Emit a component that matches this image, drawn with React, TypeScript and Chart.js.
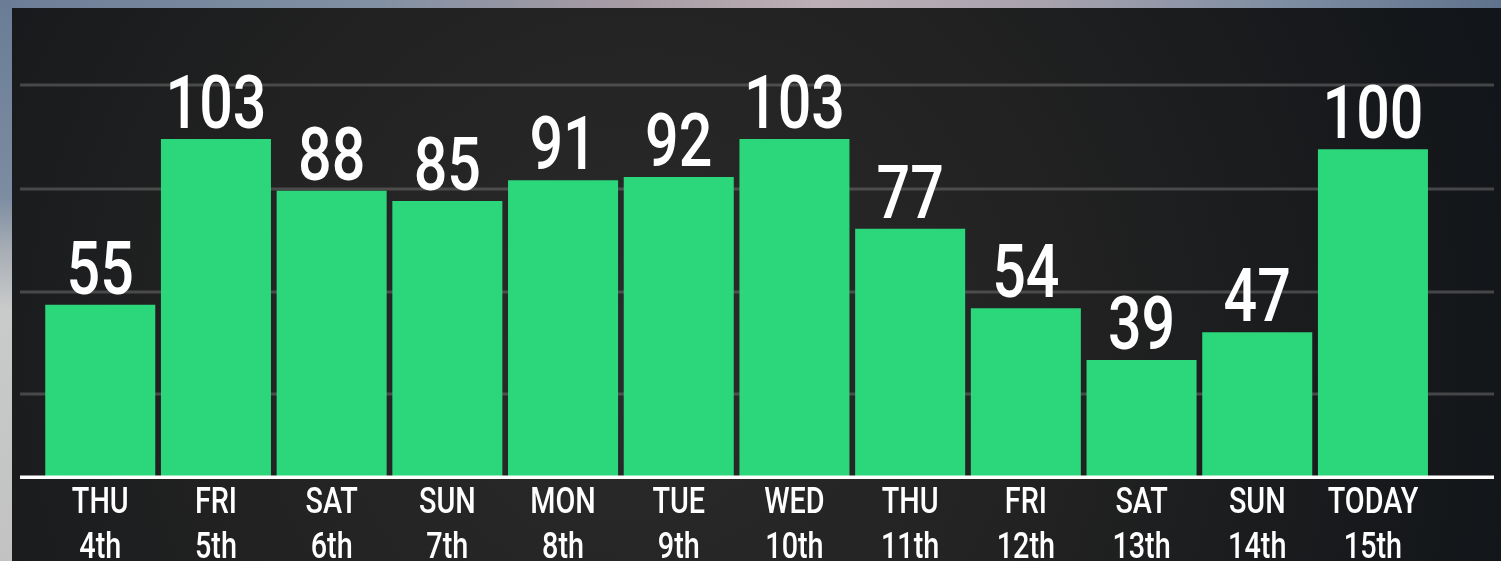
import React, { useEffect, useRef } from "react";
import { Chart, registerables } from "chart.js";

Chart.register(...registerables);

const DAYS = ["THU", "FRI", "SAT", "SUN", "MON", "TUE", "WED", "THU", "FRI", "SAT", "SUN", "TODAY"];
const DATES = ["4th", "5th", "6th", "7th", "8th", "9th", "10th", "11th", "12th", "13th", "14th", "15th"];
const VALUES = [55, 103, 88, 85, 91, 92, 103, 77, 54, 39, 47, 100];
const GRID_VALUES = [29, 58.7, 88.5, 118.6];
const Y_MIN = 5.4;
const Y_MAX = 118.6;

const W = 1501;
const H = 561;

function drawCondensed(
  ctx: CanvasRenderingContext2D,
  text: string,
  cx: number,
  baseY: number,
  font: string,
  sx: number,
  color: string
) {
  ctx.save();
  ctx.translate(cx, baseY);
  ctx.scale(sx, 1);
  ctx.font = font;
  ctx.fillStyle = color;
  ctx.textAlign = "center";
  ctx.textBaseline = "alphabetic";
  ctx.fillText(text, 0, 0);
  ctx.restore();
}

const backgroundPlugin = {
  id: "bgPanel",
  beforeDraw(chart: any) {
    const ctx: CanvasRenderingContext2D = chart.ctx;
    ctx.save();
    // photo frame - top strip
    const gTop = ctx.createLinearGradient(0, 0, W, 0);
    gTop.addColorStop(0, "#6c7e97");
    gTop.addColorStop(0.25, "#8290a3");
    gTop.addColorStop(0.42, "#a89ca4");
    gTop.addColorStop(0.55, "#bdb0b6");
    gTop.addColorStop(0.7, "#a7a2ad");
    gTop.addColorStop(0.85, "#7f8ea3");
    gTop.addColorStop(1, "#5f738c");
    ctx.fillStyle = gTop;
    ctx.fillRect(0, 0, W, 8);
    // left strip
    const gLeft = ctx.createLinearGradient(0, 0, 0, H);
    gLeft.addColorStop(0, "#6a7d96");
    gLeft.addColorStop(0.35, "#7c8ca1");
    gLeft.addColorStop(0.45, "#a9afb6");
    gLeft.addColorStop(0.55, "#c9caca");
    gLeft.addColorStop(1, "#c2c2c2");
    ctx.fillStyle = gLeft;
    ctx.fillRect(0, 0, 12, H);
    // dark panel
    const gPanel = ctx.createRadialGradient(640, 360, 20, 640, 360, 900);
    gPanel.addColorStop(0, "#2a2a2a");
    gPanel.addColorStop(0.45, "#222222");
    gPanel.addColorStop(1, "#121519");
    ctx.fillStyle = gPanel;
    ctx.fillRect(12, 8, W - 12, H - 8);
    ctx.restore();
  },
  beforeDatasetsDraw(chart: any) {
    const ctx: CanvasRenderingContext2D = chart.ctx;
    const y = chart.scales.y;
    ctx.save();
    ctx.strokeStyle = "rgba(110,110,110,0.55)";
    ctx.lineWidth = 3;
    GRID_VALUES.forEach((v) => {
      const py = Math.round(y.getPixelForValue(v));
      ctx.beginPath();
      ctx.moveTo(20, py);
      ctx.lineTo(1494, py);
      ctx.stroke();
    });
    ctx.restore();
  },
  afterDatasetsDraw(chart: any) {
    const ctx: CanvasRenderingContext2D = chart.ctx;
    const y = chart.scales.y;
    const x = chart.scales.x;
    const base = y.getPixelForValue(Y_MIN);
    ctx.save();
    // baseline
    ctx.fillStyle = "#ffffff";
    ctx.fillRect(20, base - 0.5, 1474, 3.5);
    // value labels
    const meta = chart.getDatasetMeta(0);
    meta.data.forEach((bar: any, i: number) => {
      drawCondensed(
        ctx,
        String(VALUES[i]),
        bar.x,
        bar.y - 11,
        "500 74px Roboto",
        0.8,
        "#ffffff"
      );
    });
    // axis labels
    DAYS.forEach((d, i) => {
      const cx = x.getPixelForValue(i);
      drawCondensed(ctx, d, cx, base + 37, "500 36px Roboto", 0.8, "#ffffff");
      drawCondensed(ctx, DATES[i], cx, base + 82, "500 36px Roboto", 0.8, "#ffffff");
    });
    ctx.restore();
  },
};

export default function App() {
  const ref = useRef<HTMLCanvasElement | null>(null);
  useEffect(() => {
    if (!ref.current) return;
    const chart = new Chart(ref.current, {
      type: "bar",
      data: {
        labels: DAYS.map((d, i) => d + " " + DATES[i]),
        datasets: [
          {
            data: VALUES,
            backgroundColor: "rgb(44, 214, 122)",
            borderWidth: 0,
            categoryPercentage: 1,
            barPercentage: 0.951,
          },
        ],
      },
      options: {
        animation: false,
        responsive: false,
        devicePixelRatio: 1,
        layout: {
          padding: { left: 42.4, right: 70.2, top: 85, bottom: 85 },
        },
        plugins: {
          legend: { display: false },
          tooltip: { enabled: false },
        },
        scales: {
          x: { display: false, grid: { display: false } },
          y: { display: false, min: Y_MIN, max: Y_MAX, grid: { display: false } },
        },
      },
      plugins: [backgroundPlugin],
    });
    return () => chart.destroy();
  }, []);
  return (
    <div style={{ position: "fixed", left: 0, top: 0, width: W, height: H }}>
      <canvas ref={ref} width={W} height={H} style={{ display: "block" }} />
    </div>
  );
}
